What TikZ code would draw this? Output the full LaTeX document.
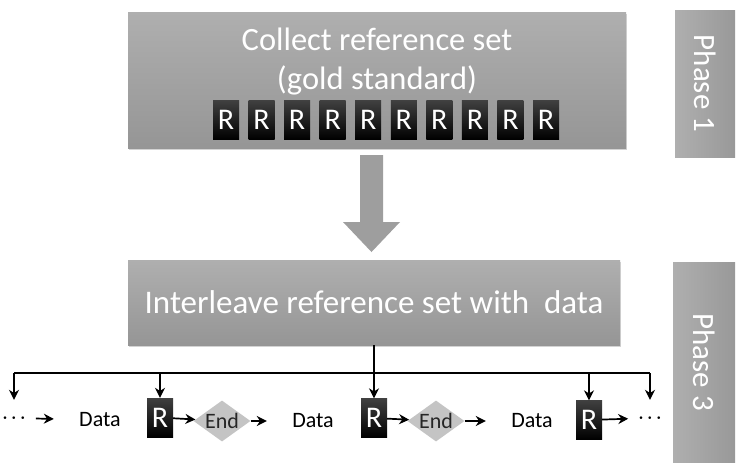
\documentclass[tikz,border=0pt]{standalone}
\usepackage{fontspec}
\setmainfont{Carlito}
\usetikzlibrary{shapes.geometric,shadows,arrows.meta}
\definecolor{boxgray}{RGB}{166,166,166}
\definecolor{endgray}{RGB}{196,196,196}
\begin{document}
\begin{tikzpicture}[x=1pt,y=-1pt,>={Stealth[length=10pt,width=10pt]},
  bigbox/.style={rectangle, top color=boxgray!90!white, bottom color=boxgray!90!black,
    drop shadow={opacity=.35, shadow xshift=1pt, shadow yshift=-2pt}},
  phasebox/.style={rectangle, rotate=-90, left color=boxgray!90!white, right color=boxgray!92!black,
    text=white, font=\fontsize{31}{31}\selectfont},
  rbox/.style={rectangle, top color=black!75, bottom color=black, text=white,
    minimum width=26pt, minimum height=39pt, inner sep=0pt, font=\fontsize{30}{30}\selectfont},
  datanode/.style={minimum width=92pt, inner sep=0pt, font=\fontsize{22}{22}\selectfont},
  endnode/.style={diamond, fill=endgray, aspect=1.4, inner sep=0pt, minimum width=57pt,
    minimum height=41pt, text=black!85, font=\fontsize{22}{22}\selectfont},
  dotsnode/.style={inner xsep=10pt, inner ysep=0pt, minimum height=36pt,
    font=\fontsize{16}{16}\selectfont\boldmath},
  flow/.style={->, line width=1.7pt},
  link/.style={line width=1.4pt}]
 \useasboundingbox (0,0) rectangle (744,467);
 % phase 1
 \node[bigbox, minimum width=498pt, minimum height=136pt] (collect) at (377,80) {};
 \node[text=white, align=center, font=\fontsize{32.5}{39}\selectfont] (collecttxt) at (377,62)
   {Collect reference set\\(gold standard)};
 \foreach \i in {0,...,9}
  \node[rbox] (r\i) at (226+35.56*\i,120) {R};
 \fill[boxgray!95!black] (360,155) -- (383,155) -- (383,222) -- (400,222) -- (371.5,252)
   -- (343,222) -- (360,222) -- cycle;
 \node[bigbox, minimum width=492pt, minimum height=85pt, text=white,
   font=\fontsize{33}{33}\selectfont] (interleave) at (374,302.5)
   {Interleave reference set with \ data};
 \node[phasebox, minimum width=147pt, minimum height=60pt] (phase1) at (705,83.5) {Phase 1};
 \node[phasebox, minimum width=200pt, minimum height=62pt] (phase3) at (704,362) {Phase 3};
 % phase 3 row
 \node[dotsnode] (dotsL) at (14,418) {$\cdots$};
 \node[datanode] (data1) at (100,420) {Data};
 \node[rbox] (rb1) at (160,417.5) {R};
 \node[endnode] (end1) at (222,421) {End};
 \node[datanode] (data2) at (313,421) {Data};
 \node[rbox] (rb2) at (374,418) {R};
 \node[endnode] (end2) at (436,421) {End};
 \node[datanode] (data3) at (532,421) {Data};
 \node[rbox] (rb3) at (589,420) {R};
 \node[dotsnode] (dotsR) at (650,418) {$\cdots$};
 \draw[flow] (dotsL) -- (data1);
 \draw[flow] (rb1) -- (end1);
 \draw[flow] (end1) -- (data2);
 \draw[flow] (rb2) -- (end2);
 \draw[flow] (end2) -- (data3);
 \draw[flow] (rb3) -- (dotsR);
 % bus
 \coordinate (bus) at (374,373);
 \draw[link] (dotsL |- bus) -- (dotsR |- bus);
 \draw[link,->] (interleave.south) -- (rb2.north);
 \foreach \t in {dotsL,rb1,rb3,dotsR}
  \draw[link,->] (\t |- bus) -- (\t.north);
\end{tikzpicture}
\end{document}
